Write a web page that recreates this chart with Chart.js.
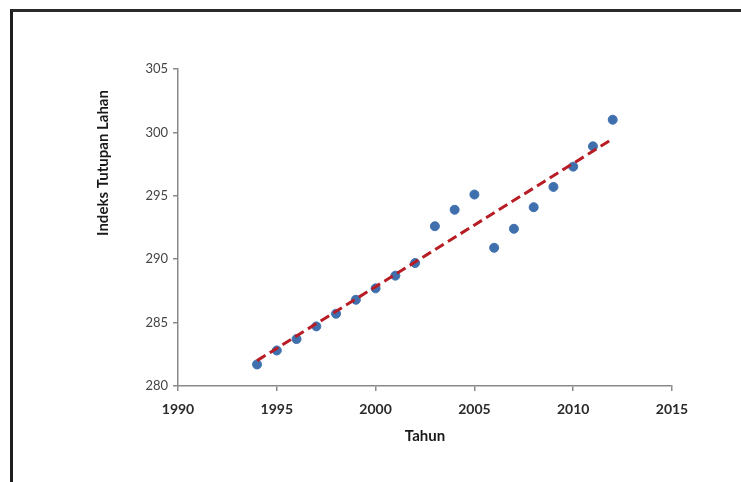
<!DOCTYPE html>
<html>
<head>
<meta charset="utf-8">
<script src="https://cdn.jsdelivr.net/npm/chart.js@4"></script>
<style>
  body { margin: 0; background: #fff; }
  #frame {
    position: absolute; left: 10px; top: 9px; width: 760px; height: 500px;
    border-left: 3px solid #1e1e1e; border-top: 3px solid #2a2a2a;
  }
  #wrap { position: absolute; left: 0; top: 0; width: 741px; height: 482px; }
</style>
</head>
<body>
<div id="frame"></div>
<div id="wrap"><canvas id="lahanChart" width="741" height="482"></canvas></div>
<script>
// data
const years = [1994, 1995, 1996, 1997, 1998, 1999, 2000, 2001, 2002, 2003,
  2004, 2005, 2006, 2007, 2008, 2009, 2010, 2011, 2012];
const indeks = [281.7, 282.8, 283.7, 284.7, 285.7, 286.8, 287.7, 288.7, 289.7, 292.6,
  293.9, 295.1, 290.9, 292.4, 294.1, 295.7, 297.3, 298.9, 301.0];
const trendYears = [1994, 2012];
const trendValues = [282.0, 299.5];
const xTicks = [1990, 1995, 2000, 2005, 2010, 2015];
const yTicks = [280, 285, 290, 295, 300, 305];

const axisColor = '#8a8a8a';
const font = 'Lato, "Open Sans", sans-serif';

// y axis title sits above centre in the original, so draw it by hand
const yTitlePlugin = {
  id: 'yTitle',
  afterDraw(chart) {
    const ctx = chart.ctx;
    ctx.save();
    ctx.translate(103, 163);
    ctx.rotate(-Math.PI / 2);
    ctx.font = 'bold 15px ' + font;
    ctx.fillStyle = '#1a1a1a';
    ctx.textAlign = 'center';
    ctx.textBaseline = 'middle';
    ctx.fillText('Indeks Tutupan Lahan', 0, 0);
    ctx.restore();
  }
};

new Chart(document.getElementById('lahanChart'), {
  type: 'scatter',
  data: {
    datasets: [
      {
        label: 'Indeks',
        data: years.map((y, i) => ({ x: y, y: indeks[i] })),
        backgroundColor: '#3f70ad',
        borderColor: '#3f70ad',
        pointRadius: 4.5,
        order: 2
      },
      {
        label: 'Trend',
        type: 'line',
        data: trendYears.map((y, i) => ({ x: y, y: trendValues[i] })),
        borderColor: '#b81c24',
        borderWidth: 3,
        borderDash: [10, 5],
        pointRadius: 0,
        fill: false,
        order: 1
      }
    ]
  },
  options: {
    responsive: false,
    animation: false,
    layout: { padding: { left: 90, top: 69, right: 69, bottom: 33 } },
    plugins: { legend: { display: false }, tooltip: { enabled: false } },
    scales: {
      x: {
        type: 'linear',
        min: 1990,
        max: 2015,
        afterBuildTicks: s => { s.ticks = xTicks.map(v => ({ value: v })); },
        afterFit: s => { s.height = 63; },
        ticks: {
          callback: v => String(v),
          color: '#2a2a2a',
          font: { family: font, size: 14, weight: 'bold' },
          padding: 10,
          maxRotation: 0
        },
        grid: { drawOnChartArea: false, tickLength: 5, color: axisColor, lineWidth: 1.5 },
        border: { color: axisColor, width: 1.5 },
        title: {
          display: true,
          text: 'Tahun',
          color: '#1a1a1a',
          font: { family: font, size: 15, weight: 'bold' },
          padding: { top: 4, bottom: 4 }
        }
      },
      y: {
        min: 280,
        max: 305,
        afterBuildTicks: s => { s.ticks = yTicks.map(v => ({ value: v })); },
        afterFit: s => { s.width = 88; },
        ticks: {
          color: '#444',
          font: { family: font, size: 13 },
          padding: 5
        },
        grid: { drawOnChartArea: false, tickLength: 5, color: axisColor, lineWidth: 1.5 },
        border: { color: axisColor, width: 1.5 }
      }
    }
  },
  plugins: [yTitlePlugin]
});
</script>
</body>
</html>
